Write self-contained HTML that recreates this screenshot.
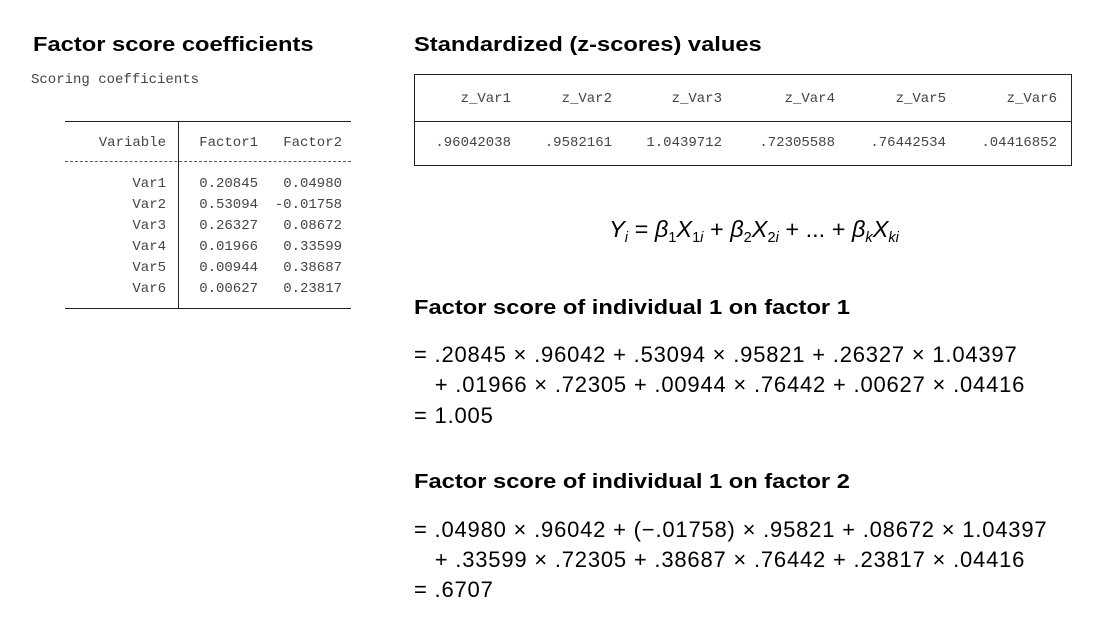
<!DOCTYPE html>
<html><head><meta charset="utf-8"><style>
body{margin:0;width:1119px;height:625px;background:#fff;position:relative;overflow:hidden;font-family:"Liberation Sans",sans-serif;color:#000}
.a{position:absolute;white-space:pre;line-height:20px}
.h{font-weight:bold;font-size:20px;transform:scaleX(1.185);transform-origin:0 0}
.m{font-family:"Liberation Mono",monospace;font-size:14px;color:#444}
.r{text-align:right}
.t{font-size:22px;line-height:26px;letter-spacing:0.8px}
.ln{position:absolute;background:#222}
.dl{position:absolute;height:0;border-top:1px dashed #555}
sub{font-size:62%;vertical-align:-0.35em}
</style></head><body>
<div class="a h" style="left:33px;top:35px">Factor score coefficients</div>
<div class="a h" style="left:414px;top:35px">Standardized (z-scores) values</div>
<div class="a m" style="left:31px;top:70px">Scoring coefficients</div>

<div>
<div class="ln" style="left:65px;top:121px;width:286px;height:1px"></div>
<div class="ln" style="left:178px;top:121px;width:1px;height:187px"></div>
<div class="dl" style="left:65px;top:161px;width:286px"></div>
<div class="ln" style="left:65px;top:308px;width:286px;height:1px"></div>
<div class="a m r" style="left:60px;width:106px;top:133px">Variable</div>
<div class="a m r" style="left:180px;width:78px;top:133px">Factor1</div>
<div class="a m r" style="left:262px;width:80px;top:133px">Factor2</div>
<div id="rows"></div>
</div>

<div>
<div style="position:absolute;left:414px;top:74px;width:656px;height:90px;border:1px solid #222"></div>
<div class="ln" style="left:414px;top:121px;width:657px;height:1px"></div>
<div id="zcols"></div>
</div>

<div class="a" style="left:554px;top:214px;width:400px;text-align:center;font-size:23.5px;line-height:30px;font-style:italic">Y<sub>i</sub> <span style="font-style:normal">=</span> β<sub style="font-style:normal">1</sub>X<sub><span style="font-style:normal">1</span>i</sub> <span style="font-style:normal">+</span> β<sub style="font-style:normal">2</sub>X<sub><span style="font-style:normal">2</span>i</sub> <span style="font-style:normal">+ ... +</span> β<sub>k</sub>X<sub>ki</sub></div>

<div class="a h" style="left:414px;top:298px">Factor score of individual 1 on factor 1</div>
<div class="a t" style="left:414px;top:342px">= .20845 × .96042 + .53094 × .95821 + .26327 × 1.04397</div>
<div class="a t" style="left:414px;top:372px">   + .01966 × .72305 + .00944 × .76442 + .00627 × .04416</div>
<div class="a t" style="left:414px;top:403px">= 1.005</div>

<div class="a h" style="left:414px;top:472px">Factor score of individual 1 on factor 2</div>
<div class="a t" style="left:414px;top:517px">= .04980 × .96042 + (−.01758) × .95821 + .08672 × 1.04397</div>
<div class="a t" style="left:414px;top:547px">   + .33599 × .72305 + .38687 × .76442 + .23817 × .04416</div>
<div class="a t" style="left:414px;top:577px">= .6707</div>

<script>
const vars=["Var1","Var2","Var3","Var4","Var5","Var6"];
const f1=["0.20845","0.53094","0.26327","0.01966","0.00944","0.00627"];
const f2=["0.04980","-0.01758","0.08672","0.33599","0.38687","0.23817"];
const zNames=["z_Var1","z_Var2","z_Var3","z_Var4","z_Var5","z_Var6"];
const zVals=[".96042038",".9582161","1.0439712",".72305588",".76442534",".04416852"];
const rows=document.getElementById('rows');
vars.forEach((v,i)=>{
  const y=174+i*21;
  [[v,60,106],[f1[i],180,78],[f2[i],262,80]].forEach(([t,l,w],j)=>{
    const d=document.createElement('div');
    d.className='a m r';
    d.style.cssText=`left:${l}px;width:${w}px;top:${y}px`;
    d.textContent=t;
    
    
    rows.appendChild(d);
  });
});
const ends=[511,612,722,835,946,1057];
const zc=document.getElementById('zcols');
zNames.forEach((n,i)=>{
  [[n,89],[zVals[i],133]].forEach(([t,y],j)=>{
    const d=document.createElement('div');
    d.className='a m r';
    d.style.cssText=`left:${ends[i]-100}px;width:100px;top:${y}px`;
    d.textContent=t;
    
    
    zc.appendChild(d);
  });
});
</script>
</body></html>
